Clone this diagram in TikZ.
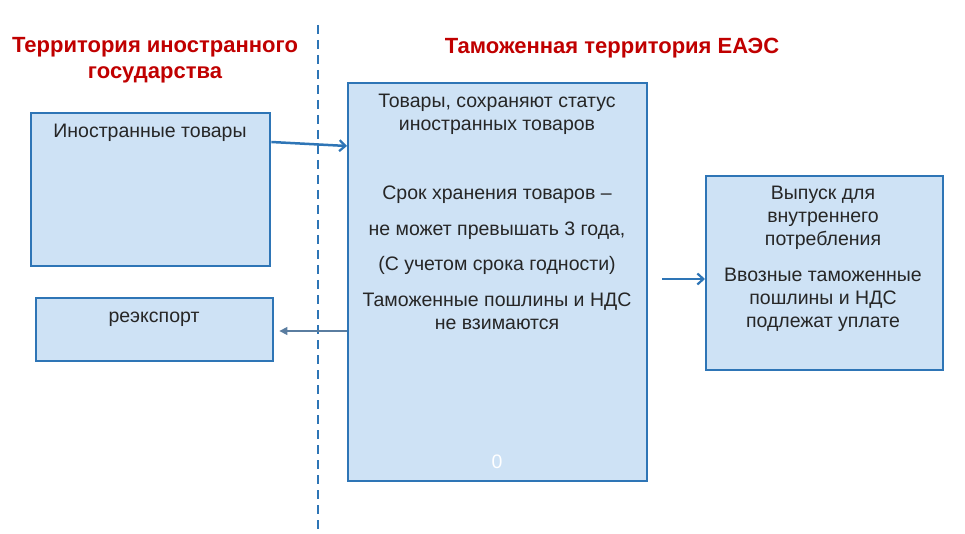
\documentclass[tikz,border=0pt]{standalone}
\usepackage{fontspec}
\setmainfont{Liberation Sans}
\usetikzlibrary{arrows.meta}
\definecolor{boxfill}{RGB}{206,226,245}
\definecolor{boxline}{RGB}{46,117,182}
\definecolor{titlered}{RGB}{192,0,0}
\definecolor{thinarrow}{RGB}{90,125,160}
\tikzset{
  box/.style={draw=boxline,line width=2.4pt,fill=boxfill},
  txt/.style={anchor=base,inner sep=0pt,font=\fontsize{19.5}{22}\selectfont,text=black!85},
  ttl/.style={anchor=base,inner sep=0pt,font=\fontsize{22}{26}\selectfont\bfseries,text=titlered},
  thickarrow/.style={draw=boxline,line width=2.5pt,-{Straight Barb[length=6pt,width=11pt,line width=2.2pt]}},
  thinarr/.style={draw=thinarrow,line width=1.2pt,-{Triangle[length=8pt,width=8pt]}}
}
\begin{document}
\begin{tikzpicture}[x=1pt,y=-1pt]
\useasboundingbox (0,0) rectangle (965,534);
% titles
\node[ttl] (t1) at (155,53) {Территория иностранного};
\node[ttl] (t2) at (155,79) {государства};
\node[ttl] (t3) at (612,54) {Таможенная территория ЕАЭС};
% divider
\coordinate (d1) at (318,25);
\coordinate (d2) at (318,530);
\draw[boxline,line width=2.2pt,dash pattern=on 9pt off 6pt] (d1) -- (d2);
% boxes
\node[box,minimum width=239,minimum height=153,anchor=north west] (foreign) at (30,112) {};
\node[box,minimum width=237,minimum height=63,anchor=north west] (reexp) at (35,297) {};
\node[box,minimum width=299,minimum height=398,anchor=north west] (center) at (347,82) {};
\node[box,minimum width=237,minimum height=194,anchor=north west] (release) at (705,175) {};
% texts
\node[txt] (a1) at (150,138) {Иностранные товары};
\node[txt] (b1) at (154,322) {реэкспорт};
\node[txt] (c1) at (497,108) {Товары, сохраняют статус};
\node[txt] (c2) at (497,131) {иностранных товаров};
\node[txt] (c3) at (497,200) {Срок хранения товаров –};
\node[txt] (c4) at (497,236) {не может превышать 3 года,};
\node[txt] (c5) at (497,270) {(С учетом срока годности)};
\node[txt] (c6) at (497,306) {Таможенные пошлины и НДС};
\node[txt] (c7) at (497,329) {не взимаются};
\node[txt,text=white] (c0) at (497,468) {0};
\node[txt] (r1) at (823,200) {Выпуск для};
\node[txt] (r2) at (823,223) {внутреннего};
\node[txt] (r3) at (823,246) {потребления};
\node[txt] (r4) at (823,281) {Ввозные таможенные};
\node[txt] (r5) at (823,304) {пошлины и НДС};
\node[txt] (r6) at (823,327) {подлежат уплате};
% arrows
\draw[thickarrow] (foreign.north east |- 0,142) -- (center.north west |- 0,146);
\draw[thinarr] (center.north west |- 0,331) -- ([xshift=5pt]reexp.east |- 0,331);
\draw[thickarrow] ([xshift=14pt]center.east |- 0,279) -- (release.west |- 0,279);
\end{tikzpicture}
\end{document}
